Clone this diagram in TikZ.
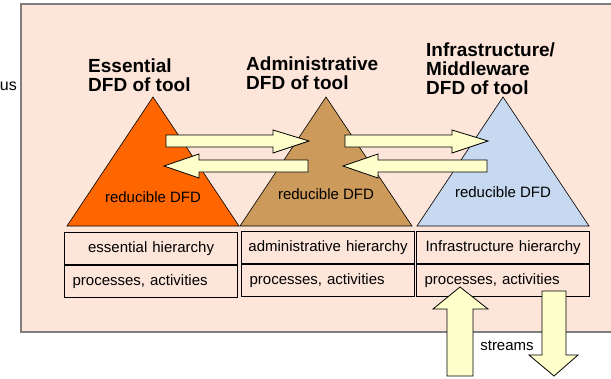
\documentclass[tikz,border=0pt]{standalone}
\usepackage{fontspec}
\setmainfont{Liberation Sans}
\usepackage{tikz}
\tikzset{>=latex}
\definecolor{peach}{HTML}{FDE5D9}
\definecolor{frame}{HTML}{7F7F7F}
\definecolor{essential}{HTML}{FF6600}
\definecolor{admin}{HTML}{CC9A5A}
\definecolor{infra}{HTML}{C6D9F0}
\definecolor{streamfill}{HTML}{FFFFCC}

\begin{document}
\begin{tikzpicture}[x=1pt, y=-1pt]
            \tikzset{heading/.style = {anchor=north west, align=left, inner sep=0pt, font=\fontsize{19}{19}\selectfont\bfseries},
                     small/.style = {inner sep=0pt, font=\fontsize{15}{18}\selectfont},
                     cell/.style = {draw, line width=1.2pt, minimum height=32pt, text width=165pt, inner xsep=4pt, inner ysep=0pt, font=\fontsize{15}{18}\selectfont},
                     fat/.style = {draw, fill=streamfill, line width=0.8pt}}
            \useasboundingbox (0, 0) rectangle (611, 378);
            \fill[peach] (21, 4) rectangle (613, 332);
            \draw[frame, line width=1.5pt] (613, 4) -- (21, 4) -- (21, 332) -- (613, 332);
            \node[small, anchor=east, font=\fontsize{16}{18}\selectfont] (us) at (17, 86) {us};
            \foreach \x/\col in {153/essential, 326/admin, 503/infra} {
                \draw[fill=\col, line width=0.6pt] ({\x - 86}, 226) -- (\x, 97) -- ({\x + 86}, 226) -- cycle;
            }
            \node[small] (essred) at (153, 197) {reducible DFD};
            \node[small] (admred) at (326, 194) {reducible DFD};
            \node[small] (infred) at (503, 192) {reducible DFD};
            \node[heading] (esstitle) at (88, 59) {Essential\\DFD of tool};
            \node[heading] (admtitle) at (246, 57) {Administrative\\DFD of tool};
            \node[heading] (inftitle) at (426, 43) {Infrastructure/\\Middleware\\DFD of tool};
            % hierarchy tables
            \node[cell, align=center, anchor=north west] (esshier) at (64, 232) {essential hierarchy};
            \node[cell, align=left, anchor=north] (essproc) at (esshier.south) {\hspace{4pt}processes, activities};
            \node[cell, align=center, anchor=north west] (admhier) at (241, 231) {administrative hierarchy};
            \node[cell, align=left, anchor=north] (admproc) at (admhier.south) {\hspace{4pt}processes, activities};
            \node[cell, align=center, anchor=north west] (infhier) at (416, 231) {Infrastructure hierarchy};
            \node[cell, align=left, anchor=north] (infproc) at (infhier.south) {\hspace{4pt}processes, activities};
            % block arrows
            \foreach \a in {166, 345} {
                \draw[fat] (\a, 135) -- ({\a + 107}, 135) -- ({\a + 107}, 130) -- ({\a + 143}, 141) -- ({\a + 107}, 153) -- ({\a + 107}, 147) -- (\a, 147) -- cycle;
            }
            \foreach \a in {164, 343} {
                \draw[fat] (\a, 166) -- ({\a + 35}, 154) -- ({\a + 35}, 160) -- ({\a + 144}, 160) -- ({\a + 144}, 172) -- ({\a + 35}, 172) -- ({\a + 35}, 178) -- cycle;
            }
            \draw[fat] (447, 376) -- (447, 309) -- (433, 309) -- (460, 287) -- (488, 309) -- (473, 309) -- (473, 376) -- cycle;
            \draw[fat] (542, 291) -- (566, 291) -- (566, 355) -- (578, 355) -- (554, 376) -- (529, 355) -- (542, 355) -- cycle;
            \node[small] (streams) at (507, 346) {streams};
        \end{tikzpicture}
\end{document}
